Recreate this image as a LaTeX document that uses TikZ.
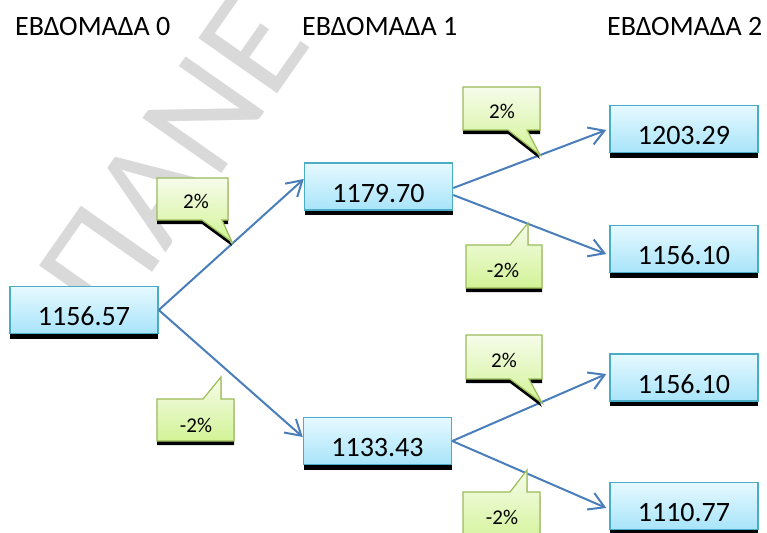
\documentclass[tikz,border=0pt]{standalone}
\usepackage{fontspec}
\setmainfont{Carlito}
\usetikzlibrary{arrows.meta,shadows}

\definecolor{arrowblue}{RGB}{74,126,187}
\definecolor{boxedge}{RGB}{75,172,198}
\definecolor{boxtop}{RGB}{230,249,255}
\definecolor{boxbot}{RGB}{168,228,250}
\definecolor{tagedge}{RGB}{155,187,89}
\definecolor{tagtop}{RGB}{246,252,234}
\definecolor{tagbot}{RGB}{210,243,150}
\definecolor{markgray}{RGB}{217,217,217}

\tikzset{
  weeklabel/.style={anchor=base west, inner sep=0pt, font=\fontsize{28}{32}\selectfont},
  valbox/.style={rectangle, draw=boxedge, line width=1.5pt,
    top color=boxtop, bottom color=boxbot,
    minimum width=148pt, inner sep=0pt, text height=39pt, text depth=8pt,
    font=\fontsize{28}{32}\selectfont,
    drop shadow={shadow xshift=0pt, shadow yshift=-5pt, opacity=1, fill=black}},
  tag/.style={draw=tagedge, line width=1.2pt, line join=miter,
    top color=tagtop, bottom color=tagbot,
    drop shadow={shadow xshift=0pt, shadow yshift=-4pt, opacity=1, fill=black}},
  tagtext/.style={inner sep=0pt, font=\fontsize{21}{24}\selectfont},
  link/.style={draw=arrowblue, line width=2pt,
    -{Straight Barb[length=15pt,width=18pt,line width=2pt]}},
}

\begin{document}
\begin{tikzpicture}[x=1pt,y=-1pt]
  \useasboundingbox (0,0) rectangle (767,532);

  % faint diagonal watermark behind the tree
  \node[rotate=55, anchor=base west, inner sep=0pt, text=markgray,
        font=\fontsize{150}{150}\selectfont] (mark) at (112,330) {ΠΑΝΕ};

  % column headings
  \node[weeklabel] (w0) at (15,36)  {ΕΒΔΟΜΑΔΑ 0};
  \node[weeklabel] (w1) at (302,36) {ΕΒΔΟΜΑΔΑ 1};
  \node[weeklabel] (w2) at (607,36) {ΕΒΔΟΜΑΔΑ 2};

  % price boxes
  \node[valbox] (root) at (84,310)    {1156.57};
  \node[valbox] (up)   at (378.5,186.5) {1179.70};
  \node[valbox] (dn)   at (377.5,441) {1133.43};
  \node[valbox] (uu)   at (684,129)   {1203.29};
  \node[valbox] (ud)   at (684,249)   {1156.10};
  \node[valbox] (du)   at (684,377.5) {1156.10};
  \node[valbox] (dd)   at (684,506)   {1110.77};

  % branches
  \draw[link] (root.east) -- ([yshift=7.5pt]up.west);
  \draw[link] (root.east) -- ([yshift=4pt]dn.west);
  \draw[link] ([yshift=-1.5pt]up.east) -- ([xshift=-3pt,yshift=-1pt]uu.west);
  \draw[link] ([yshift=-8.5pt]up.east) -- ([xshift=-3pt,yshift=-5pt]ud.west);
  \draw[link] (dn.east) -- ([xshift=-3pt,yshift=3.5pt]du.west);
  \draw[link] (dn.east) -- ([xshift=-3pt,yshift=-2pt]dd.west);

  % rate callouts
  \path[tag] (157,178) -- (228,178) -- (228,220) -- (222,220) -- (232,242)
             -- (202,220) -- (157,220) -- cycle;
  \node[tagtext] (ta) at (196,201) {2\%};

  \path[tag] (157,399) -- (203,399) -- (221,377) -- (221,399) -- (234,399)
             -- (234,441) -- (157,441) -- cycle;
  \node[tagtext] (tb) at (196,425) {-2\%};

  \path[tag] (463,87) -- (540,87) -- (540,130) -- (527,130) -- (540,155)
             -- (508,130) -- (463,130) -- cycle;
  \node[tagtext] (tc) at (502,111) {2\%};

  \path[tag] (466,245) -- (510,245) -- (528,223) -- (528,245) -- (542,245)
             -- (542,288) -- (466,288) -- cycle;
  \node[tagtext] (td) at (503,270) {-2\%};

  \path[tag] (466,335) -- (542,335) -- (542,379) -- (529,379) -- (542,403)
             -- (510,379) -- (466,379) -- cycle;
  \node[tagtext] (te) at (504,360) {2\%};

  \path[tag] (463,492) -- (510,492) -- (527,470) -- (527,492) -- (540,492)
             -- (540,545) -- (463,545) -- cycle;
  \node[tagtext] (tf) at (502,517) {-2\%};
\end{tikzpicture}
\end{document}
